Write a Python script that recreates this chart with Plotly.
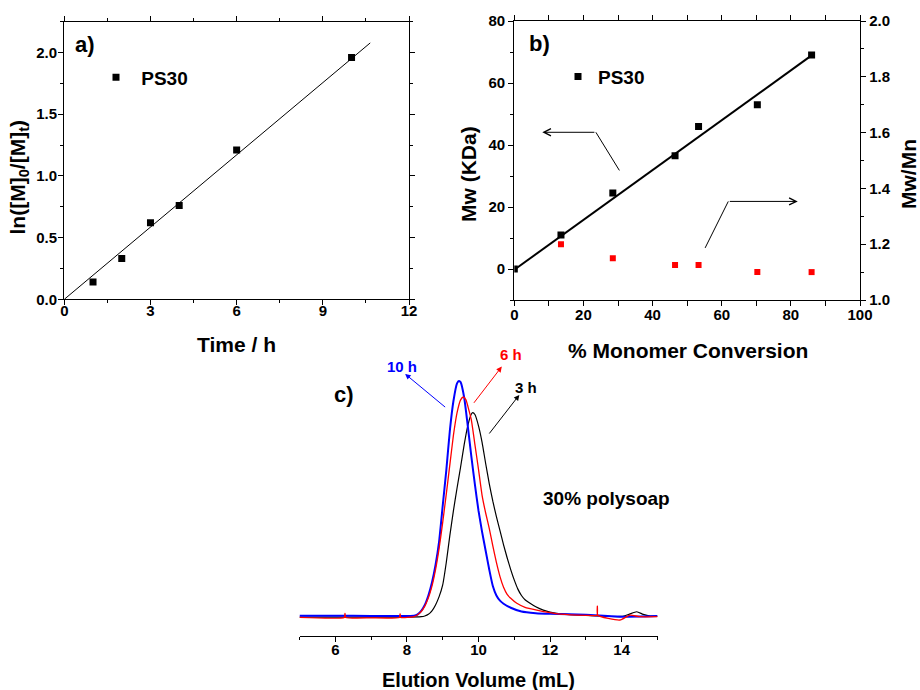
import plotly.graph_objects as go

# ---------------- data ----------------
# panel a
time_h = [1, 2, 3, 4, 6, 10]
ln_ratio = [0.14, 0.33, 0.62, 0.76, 1.21, 1.96]
fit_a_time = [0, 10.65]
fit_a_ln = [0, 2.078]

# panel b
conversion = [0, 13.5, 28.5, 46.5, 53.3, 70.3, 86]
mw_kda = [0, 11, 24.5, 36.5, 46, 53, 69]
pdi_conversion = [13.5, 28.5, 46.5, 53.3, 70.3, 86]
pdi = [1.20, 1.15, 1.125, 1.125, 1.10, 1.10]
fit_b_conv = [0.3, 86.5]
fit_b_mw = [0.0, 69.3]

# panel c  (GPC traces, normalised intensity)
blue_vol = [5.0, 6.0, 7.0, 8.0, 8.2, 8.3, 8.4, 8.5, 8.6, 8.7, 8.8, 8.9, 9.0, 9.1, 9.2, 9.3, 9.4,
            9.455, 9.5, 9.6, 9.7, 9.8, 9.9, 10.0, 10.1, 10.2, 10.3, 10.4, 10.5, 10.6, 10.7, 10.9,
            11.2, 11.6, 12.0, 13.0, 14.0, 15.0]
blue_int = [0.004, 0.004, 0.003, 0.003, 0.004, 0.01, 0.025, 0.05, 0.09, 0.145, 0.22, 0.32, 0.47,
            0.62, 0.79, 0.915, 0.99, 1.0, 0.995, 0.93, 0.81, 0.68, 0.56, 0.45, 0.36, 0.28, 0.2,
            0.13, 0.09, 0.068, 0.055, 0.038, 0.022, 0.015, 0.012, 0.008, 0.0, 0.003]

red_vol = [5.0, 6.25, 6.27, 6.29, 7.0, 7.79, 7.81, 7.83, 8.2, 8.3, 8.4, 8.5, 8.6, 8.7, 8.8, 8.9,
           9.0, 9.1, 9.2, 9.3, 9.4, 9.5, 9.575, 9.65, 9.73, 9.8, 9.9, 10.0, 10.1, 10.2, 10.3, 10.4,
           10.5, 10.6, 10.7, 10.8, 10.9, 11.07, 11.3, 11.63, 12.0, 12.28, 13.0, 13.31, 13.32, 13.33,
           13.95, 14.23, 14.5, 15.0]
red_int = [-0.003, -0.003, 0.014, -0.003, -0.005, -0.003, 0.012, -0.003, 0.0, 0.008, 0.022, 0.045,
           0.08, 0.13, 0.2, 0.29, 0.4, 0.52, 0.645, 0.77, 0.865, 0.92, 0.932, 0.92, 0.877, 0.835,
           0.73, 0.625, 0.515, 0.44, 0.375, 0.3, 0.23, 0.17, 0.125, 0.095, 0.078, 0.057, 0.04,
           0.028, 0.017, 0.011, 0.006, 0.006, 0.045, 0.006, -0.014, 0.007, 0.0, 0.0]

black_vol = [5.0, 8.0, 8.4, 8.5, 8.6, 8.7, 8.8, 8.9, 9.0, 9.1, 9.2, 9.3, 9.4, 9.5, 9.6, 9.7, 9.8,
             9.84, 9.9, 10.0, 10.1, 10.2, 10.3, 10.4, 10.5, 10.6, 10.7, 10.8, 10.9, 11.0, 11.1,
             11.2, 11.3, 11.44, 11.6, 11.81, 12.18, 13.0, 14.0, 14.2, 14.42, 14.6, 14.8, 15.0]
black_int = [-0.002, -0.002, 0.0, 0.003, 0.01, 0.025, 0.05, 0.085, 0.135, 0.23, 0.345, 0.45,
             0.545, 0.635, 0.73, 0.81, 0.86, 0.866, 0.858, 0.81, 0.74, 0.65, 0.565, 0.49, 0.425,
             0.365, 0.305, 0.25, 0.2, 0.155, 0.117, 0.09, 0.072, 0.057, 0.042, 0.028, 0.014,
             0.005, 0.001, 0.01, 0.021, 0.01, 0.003, 0.002]

# ---------------- figure ----------------
W, H = 920, 690
FONT = "Liberation Sans"


def px(x):
    return x / W


def py(y):
    return 1 - y / H


fig = go.Figure()

# panel a
fig.add_trace(go.Scatter(x=fit_a_time, y=fit_a_ln, mode="lines", line=dict(color="black", width=1),
                         showlegend=False, xaxis="x", yaxis="y"))
fig.add_trace(go.Scatter(x=time_h, y=ln_ratio, mode="markers", name="\u00a0PS30",
                         marker=dict(symbol="square", size=7, color="black"),
                         xaxis="x", yaxis="y", legend="legend"))

# panel b
fig.add_trace(go.Scatter(x=fit_b_conv, y=fit_b_mw, mode="lines", line=dict(color="black", width=2),
                         showlegend=False, xaxis="x2", yaxis="y2"))
fig.add_trace(go.Scatter(x=conversion, y=mw_kda, mode="markers", name="PS30",
                         marker=dict(symbol="square", size=7, color="black"),
                         xaxis="x2", yaxis="y2", legend="legend2"))
fig.add_trace(go.Scatter(x=pdi_conversion, y=pdi, mode="markers", showlegend=False,
                         marker=dict(symbol="square", size=6, color="#ff0000"),
                         xaxis="x2", yaxis="y3"))

# panel c
for vx, vy, col, w in [(black_vol, black_int, "black", 1.2),
                       (blue_vol, blue_int, "#0000ff", 2.0),
                       (red_vol, red_int, "#ff0000", 1.3)]:
    fig.add_trace(go.Scatter(x=vx, y=vy, mode="lines", showlegend=False,
                             line=dict(color=col, width=w, shape="spline", smoothing=0.5),
                             xaxis="x4", yaxis="y4"))

tickfont = dict(family=FONT, size=15, color="black", weight="bold")
axcommon = dict(showline=True, linecolor="black", linewidth=1.3, ticks="outside", ticklen=5,
                tickwidth=1.3, tickcolor="black", showgrid=False, zeroline=False,
                tickfont=tickfont, automargin=False)
minor_style = dict(ticklen=3, ticks="outside", tickcolor="black", tickwidth=1.2)

fig.update_layout(
    width=W, height=H, margin=dict(l=0, r=0, t=0, b=0, autoexpand=False), autosize=False,
    paper_bgcolor="white", plot_bgcolor="rgba(0,0,0,0)",
    xaxis=dict(domain=[px(64.3), px(409)], range=[0, 12], tick0=0, dtick=3, anchor="y",
               mirror="allticks", ticklabelstandoff=-7, minor=dict(dtick=1.5, **minor_style),
               **axcommon),
    yaxis=dict(domain=[py(299.3), py(21.7)], range=[0, 2.25], tick0=0, dtick=0.5, anchor="x",
               tickformat=".1f", mirror="allticks", ticklabelstandoff=-2,
               minor=dict(dtick=0.25, **minor_style), **axcommon),
    xaxis2=dict(domain=[px(514.3), px(860)], range=[0, 100], tick0=0, dtick=20, anchor="y2",
                mirror="allticks", ticklabelstandoff=-4, minor=dict(dtick=10, **minor_style),
                **axcommon),
    yaxis2=dict(domain=[py(300), py(21)], range=[-10, 80], tick0=0, dtick=20, anchor="x2",
                minor=dict(dtick=10, **minor_style), **axcommon),
    yaxis3=dict(overlaying="y2", side="right", range=[1.0, 2.0], tick0=1.0, dtick=0.2, anchor="x2",
                tickformat=".1f", minor=dict(dtick=0.1, **minor_style), **axcommon),
    xaxis4=dict(domain=[px(299.5), px(657.5)], range=[5, 15], tick0=0, dtick=2, anchor="y4",
                ticklabelstandoff=-5, minor=dict(dtick=1, **minor_style), **axcommon),
    yaxis4=dict(domain=[py(636), py(345)], range=[-0.0819, 1.1527], visible=False, anchor="x4"),
    legend=dict(x=px(96), y=py(77.3), xanchor="left", yanchor="middle", bgcolor="rgba(0,0,0,0)",
                font=dict(family=FONT, size=19, color="black", weight="bold"), borderwidth=0),
    legend2=dict(x=px(558), y=py(76.7), xanchor="left", yanchor="middle", bgcolor="rgba(0,0,0,0)",
                 font=dict(family=FONT, size=19, color="black", weight="bold"), borderwidth=0),
)


def txt(text, x, y, size, color="black", angle=0, xref="paper", yref="paper"):
    fig.add_annotation(text=text, x=x, y=y, xref=xref, yref=yref, showarrow=False,
                       xanchor="center", yanchor="middle", textangle=angle,
                       font=dict(family=FONT, size=size, color=color, weight="bold"))


# axis titles
txt("Time / h", px(236.7), py(344), 21)
txt("ln([M]<sub>0</sub>/[M]<sub>t</sub>)", px(18), py(177.5), 21, angle=-90)
txt("% Monomer Conversion", px(687.5), py(350), 21)
txt("Mw (KDa)", px(468), py(174), 21, angle=-90)
txt("Mw/Mn", px(908), py(174), 21, angle=-90)
txt("Elution Volume (mL)", px(478.5), py(680), 20)

# panel labels
txt("a)", px(85.3), py(44.3), 22)
txt("b)", px(539.5), py(43.3), 22)
txt("c)", px(343.7), py(394), 22)
txt("30% polysoap", px(606.7), py(498.3), 19)

# panel b arrows (annotation graphics)
b_left_arrow = [(30.4, 31.8), (23.6, 44.1), (8.1, 44.1)]
b_right_arrow = [(55.2, 6.8), (61.9, 21.8), (82.0, 21.8)]
for pts in (b_left_arrow, b_right_arrow):
    fig.add_shape(type="line", xref="x2", yref="y2", x0=pts[0][0], y0=pts[0][1],
                  x1=pts[1][0], y1=pts[1][1], line=dict(color="black", width=1))
    fig.add_annotation(x=pts[2][0], y=pts[2][1], ax=pts[1][0], ay=pts[1][1], xref="x2", yref="y2",
                       axref="x2", ayref="y2", text="", showarrow=True, arrowhead=5, arrowsize=1.4,
                       arrowwidth=1, arrowcolor="black", standoff=0, startstandoff=0)

# panel c arrows and labels
c_arrows = [((9.11, 0.884), (7.95, 1.030), "#0000ff"),
            ((9.84, 0.901), (10.65, 1.061), "#ff0000"),
            ((10.27, 0.771), (11.14, 0.941), "black")]
for tail, head, col in c_arrows:
    fig.add_annotation(x=head[0], y=head[1], ax=tail[0], ay=tail[1], xref="x4", yref="y4",
                       axref="x4", ayref="y4", text="", showarrow=True, arrowhead=2, arrowsize=1.1,
                       arrowwidth=1, arrowcolor=col, standoff=0, startstandoff=0)

txt("10 h", px(401.7), py(366), 15, color="#0000ff")
txt("6 h", px(511), py(355), 15, color="#ff0000")
txt("3 h", px(526), py(387.5), 15, color="black")

fig.write_html("out.html")
